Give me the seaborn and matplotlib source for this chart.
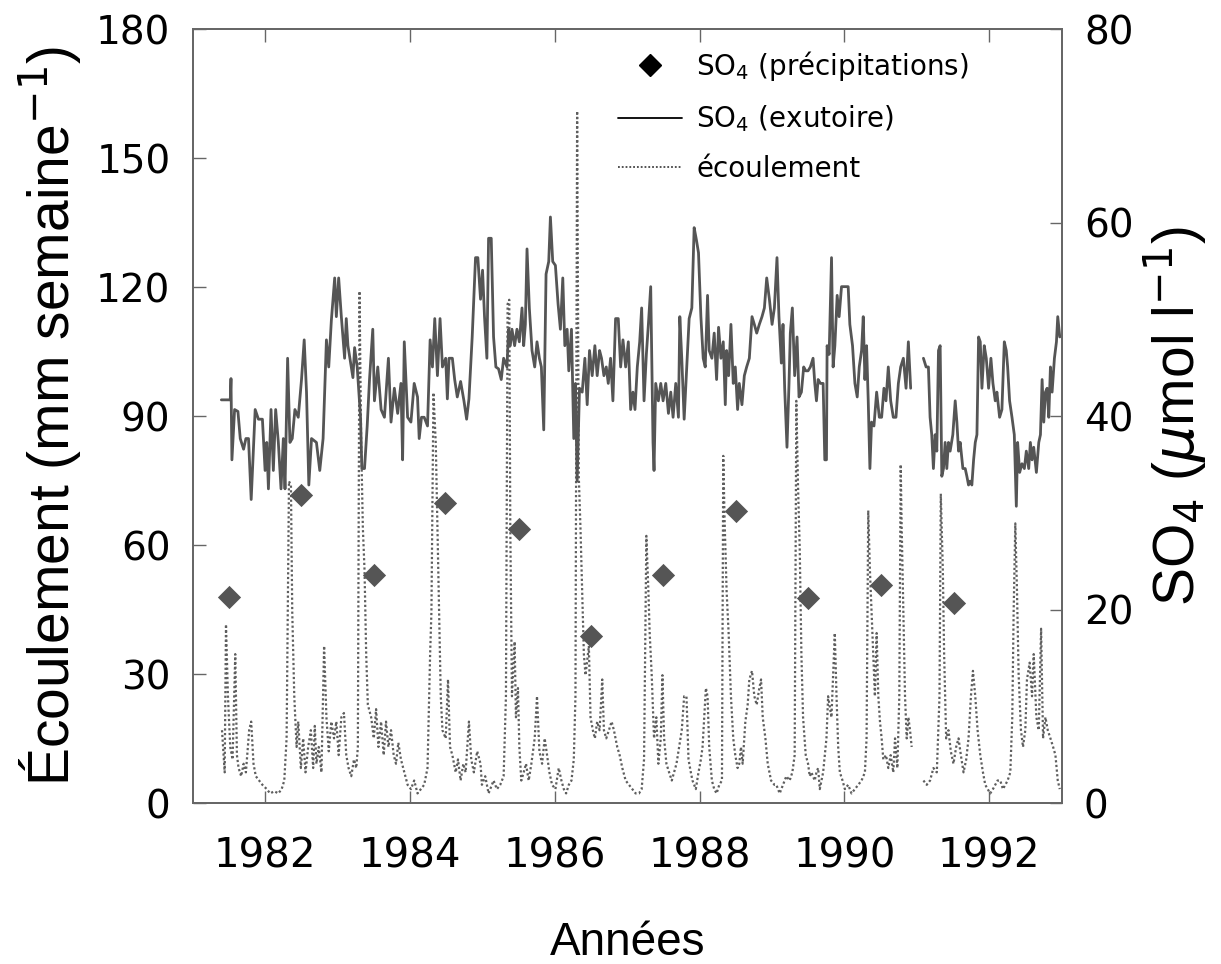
import matplotlib
matplotlib.use("Agg")
import matplotlib.pyplot as plt
from matplotlib.lines import Line2D
import pandas as pd
import seaborn as sns

# ---------------- data ----------------
# SO4 at the outlet (µmol/l), weekly-ish samples: (year, value)
so4_exutoire = [
    (1981.396, 41.7), (1981.519, 41.7), (1981.529, 43.9), (1981.542, 35.5), (1981.579, 40.7), (1981.625, 40.5),
    (1981.657, 37.7), (1981.703, 36.6), (1981.735, 37.7), (1981.771, 37.7), (1981.808, 31.4), (1981.863, 40.7),
    (1981.908, 39.7), (1981.963, 39.7), (1982.000, 34.4), (1982.023, 37.3), (1982.046, 32.5), (1982.082, 40.7),
    (1982.114, 34.4), (1982.146, 40.7), (1982.183, 37.3), (1982.220, 32.5), (1982.252, 37.7), (1982.275, 32.5),
    (1982.311, 46.0), (1982.343, 37.3), (1982.375, 37.7), (1982.412, 40.7), (1982.458, 39.9), (1982.503, 43.8),
    (1982.540, 47.9), (1982.572, 42.5), (1982.604, 32.9), (1982.641, 37.7), (1982.709, 37.3), (1982.755, 34.4),
    (1982.801, 37.7), (1982.847, 47.9), (1982.879, 45.1), (1982.915, 49.9), (1982.961, 54.3), (1982.984, 50.3),
    (1983.016, 54.3), (1983.053, 50.3), (1983.098, 46.0), (1983.121, 50.1), (1983.144, 47.3), (1983.181, 45.5),
    (1983.213, 44.0), (1983.236, 47.1), (1983.272, 45.1), (1983.318, 39.9), (1983.336, 34.6), (1983.373, 34.6),
    (1983.410, 39.0), (1983.442, 43.8), (1983.487, 49.0), (1983.510, 41.6), (1983.556, 45.1), (1983.602, 40.7),
    (1983.648, 39.9), (1983.703, 46.0), (1983.739, 39.4), (1983.785, 42.9), (1983.831, 40.3), (1983.876, 43.4),
    (1983.899, 35.5), (1983.922, 47.7), (1983.968, 39.9), (1984.014, 39.4), (1984.059, 43.4), (1984.105, 42.0),
    (1984.128, 37.7), (1984.160, 39.9), (1984.197, 39.9), (1984.243, 39.0), (1984.279, 47.9), (1984.311, 45.1),
    (1984.343, 50.1), (1984.380, 44.2), (1984.416, 50.1), (1984.449, 45.1), (1984.494, 46.0), (1984.517, 41.8),
    (1984.540, 46.0), (1984.586, 46.0), (1984.618, 43.8), (1984.654, 42.0), (1984.700, 43.6), (1984.746, 41.6),
    (1984.783, 39.7), (1984.815, 41.8), (1984.860, 48.2), (1984.906, 56.4), (1984.938, 56.4), (1984.975, 52.1),
    (1985.003, 55.1), (1985.030, 50.3), (1985.063, 46.0), (1985.086, 58.4), (1985.123, 58.4), (1985.155, 48.2),
    (1985.187, 45.1), (1985.224, 44.9), (1985.261, 43.8), (1985.294, 46.0), (1985.340, 45.1), (1985.363, 49.0),
    (1985.386, 47.3), (1985.409, 49.0), (1985.446, 47.3), (1985.478, 49.0), (1985.511, 47.7), (1985.548, 51.2),
    (1985.571, 47.3), (1985.594, 49.5), (1985.617, 57.3), (1985.649, 51.2), (1985.686, 46.8), (1985.723, 45.1),
    (1985.755, 47.7), (1985.788, 46.0), (1985.815, 45.1), (1985.848, 38.6), (1985.880, 54.7), (1985.917, 56.0),
    (1985.940, 60.6), (1985.972, 56.0), (1986.009, 55.6), (1986.046, 51.6), (1986.078, 49.0), (1986.111, 54.3),
    (1986.139, 47.3), (1986.171, 49.0), (1986.194, 44.7), (1986.231, 49.0), (1986.263, 37.7), (1986.286, 43.4),
    (1986.309, 33.3), (1986.342, 42.9), (1986.379, 42.5), (1986.416, 46.0), (1986.448, 41.2), (1986.480, 46.8),
    (1986.517, 44.2), (1986.554, 47.3), (1986.586, 44.2), (1986.619, 46.8), (1986.646, 46.0), (1986.679, 44.2),
    (1986.711, 45.1), (1986.739, 43.4), (1986.771, 46.0), (1986.803, 41.6), (1986.840, 50.1), (1986.877, 50.1),
    (1986.910, 45.1), (1986.942, 47.9), (1986.979, 45.1), (1987.016, 47.7), (1987.048, 40.7), (1987.080, 42.5),
    (1987.108, 40.7), (1987.140, 45.1), (1987.173, 47.7), (1987.200, 51.2), (1987.233, 41.6), (1987.265, 46.4),
    (1987.293, 49.5), (1987.325, 53.4), (1987.357, 37.3), (1987.371, 34.4), (1987.394, 43.4), (1987.431, 41.6),
    (1987.464, 43.4), (1987.496, 41.6), (1987.533, 43.4), (1987.570, 40.3), (1987.602, 42.5), (1987.634, 39.9),
    (1987.671, 43.4), (1987.708, 39.9), (1987.727, 50.3), (1987.754, 46.0), (1987.787, 39.7), (1987.856, 50.1),
    (1987.893, 51.2), (1987.925, 59.5), (1987.957, 58.2), (1987.985, 56.9), (1988.018, 50.3), (1988.050, 46.0),
    (1988.078, 45.1), (1988.110, 52.5), (1988.133, 46.8), (1988.170, 46.0), (1988.202, 48.6), (1988.235, 43.8),
    (1988.262, 49.2), (1988.295, 46.0), (1988.327, 47.7), (1988.355, 41.2), (1988.373, 46.8), (1988.401, 44.2),
    (1988.433, 49.5), (1988.465, 43.4), (1988.493, 45.1), (1988.525, 40.7), (1988.548, 43.4), (1988.585, 41.2),
    (1988.618, 44.2), (1988.650, 45.1), (1988.687, 46.0), (1988.724, 50.3), (1988.756, 49.5), (1988.789, 48.6),
    (1988.825, 49.5), (1988.862, 50.3), (1988.895, 51.2), (1988.927, 54.3), (1988.964, 52.1), (1989.001, 49.5),
    (1989.033, 51.2), (1989.069, 56.4), (1989.096, 50.3), (1989.129, 45.5), (1989.152, 49.5), (1989.175, 42.9),
    (1989.207, 36.8), (1989.235, 43.4), (1989.253, 48.6), (1989.281, 51.2), (1989.313, 44.2), (1989.346, 48.2),
    (1989.373, 42.0), (1989.406, 42.5), (1989.438, 45.1), (1989.466, 44.7), (1989.498, 44.7), (1989.530, 45.1),
    (1989.567, 46.0), (1989.591, 43.4), (1989.614, 41.6), (1989.637, 43.8), (1989.669, 43.4), (1989.706, 43.4),
    (1989.729, 35.5), (1989.752, 35.5), (1989.761, 47.3), (1989.789, 46.4), (1989.822, 56.4), (1989.844, 45.1),
    (1989.868, 47.3), (1989.900, 52.5), (1989.927, 50.3), (1989.960, 53.4), (1990.052, 53.4), (1990.075, 49.5),
    (1990.112, 47.3), (1990.145, 43.4), (1990.177, 42.0), (1990.205, 45.1), (1990.237, 46.8), (1990.260, 50.3),
    (1990.283, 43.8), (1990.306, 47.3), (1990.329, 41.6), (1990.352, 34.6), (1990.375, 39.4), (1990.408, 39.0),
    (1990.445, 42.5), (1990.482, 39.9), (1990.514, 39.9), (1990.546, 42.9), (1990.574, 41.6), (1990.606, 45.1),
    (1990.639, 41.6), (1990.675, 39.9), (1990.712, 39.9), (1990.745, 43.4), (1990.777, 45.1), (1990.814, 46.0),
    (1990.851, 42.9), (1990.883, 47.7), (1990.915, 42.9), (1991.091, 46.0), (1991.128, 45.1), (1991.160, 45.1),
    (1991.183, 39.9), (1991.206, 38.1), (1991.229, 34.6), (1991.253, 38.1), (1991.276, 36.4), (1991.299, 46.8),
    (1991.322, 47.3), (1991.345, 33.8), (1991.368, 34.6), (1991.391, 37.3), (1991.414, 34.6), (1991.437, 37.3),
    (1991.460, 36.4), (1991.497, 38.1), (1991.530, 41.6), (1991.553, 39.4), (1991.576, 36.4), (1991.599, 37.3),
    (1991.636, 34.6), (1991.668, 34.6), (1991.691, 33.8), (1991.714, 32.9), (1991.737, 33.3), (1991.760, 32.9),
    (1991.784, 35.5), (1991.807, 37.3), (1991.830, 38.1), (1991.853, 48.2), (1991.876, 47.7), (1991.899, 42.9),
    (1991.931, 47.3), (1991.959, 46.0), (1991.991, 42.9), (1992.023, 46.0), (1992.051, 43.4), (1992.083, 41.6),
    (1992.106, 42.5), (1992.143, 39.9), (1992.175, 40.7), (1992.208, 47.7), (1992.235, 46.8), (1992.254, 45.1),
    (1992.281, 41.6), (1992.314, 39.9), (1992.346, 38.1), (1992.374, 30.7), (1992.392, 37.3), (1992.420, 34.2),
    (1992.452, 35.1), (1992.485, 34.6), (1992.512, 36.4), (1992.545, 34.6), (1992.568, 37.3), (1992.591, 35.5),
    (1992.614, 36.8), (1992.651, 34.2), (1992.684, 37.3), (1992.707, 38.1), (1992.730, 43.8), (1992.753, 39.4),
    (1992.776, 42.5), (1992.799, 42.9), (1992.822, 39.9), (1992.845, 45.1), (1992.868, 42.5), (1992.900, 46.0),
    (1992.928, 47.7), (1992.946, 50.3), (1992.974, 48.2),
]

# Runoff (mm/week): (year, value)
ecoulement = [
    (1981.405, 17.0), (1981.442, 7.2), (1981.460, 41.6), (1981.487, 24.9), (1981.519, 13.1), (1981.551, 10.2),
    (1981.588, 34.7), (1981.611, 11.2), (1981.634, 8.2), (1981.670, 6.3), (1981.703, 9.2), (1981.735, 7.2),
    (1981.780, 17.0), (1981.808, 19.0), (1981.840, 9.2), (1981.872, 6.3), (1981.918, 5.3), (1981.963, 4.3),
    (1982.023, 3.3), (1982.069, 2.3), (1982.128, 2.8), (1982.183, 2.3), (1982.229, 3.3), (1982.265, 5.3),
    (1982.297, 15.1), (1982.330, 74.9), (1982.357, 73.9), (1982.375, 44.5), (1982.403, 24.9), (1982.435, 13.1),
    (1982.458, 19.0), (1982.494, 8.2), (1982.526, 15.1), (1982.558, 7.2), (1982.595, 13.1), (1982.632, 17.0),
    (1982.664, 8.2), (1982.686, 18.0), (1982.709, 9.2), (1982.741, 13.1), (1982.778, 7.2), (1982.815, 36.6),
    (1982.847, 20.0), (1982.879, 12.1), (1982.915, 19.0), (1982.952, 15.1), (1982.984, 19.0), (1983.016, 11.2),
    (1983.053, 20.0), (1983.089, 21.0), (1983.121, 11.2), (1983.153, 8.2), (1983.190, 6.3), (1983.227, 10.2),
    (1983.259, 8.2), (1983.281, 13.1), (1983.304, 119.1), (1983.327, 83.7), (1983.350, 64.1), (1983.373, 54.3),
    (1983.396, 34.7), (1983.419, 22.9), (1983.465, 20.0), (1983.501, 15.1), (1983.533, 21.9), (1983.565, 13.1),
    (1983.602, 19.0), (1983.638, 11.2), (1983.670, 19.0), (1983.703, 13.1), (1983.739, 17.0), (1983.776, 11.2),
    (1983.808, 9.2), (1983.840, 14.1), (1983.876, 10.2), (1983.922, 7.2), (1983.968, 4.3), (1984.014, 3.3),
    (1984.059, 5.3), (1984.105, 2.3), (1984.151, 3.3), (1984.197, 4.3), (1984.243, 8.2), (1984.279, 34.7),
    (1984.297, 44.5), (1984.325, 95.5), (1984.357, 83.7), (1984.380, 64.1), (1984.403, 44.5), (1984.426, 24.9),
    (1984.449, 17.0), (1984.494, 15.1), (1984.526, 28.8), (1984.554, 13.1), (1984.586, 11.2), (1984.632, 7.2),
    (1984.664, 10.2), (1984.700, 5.3), (1984.737, 9.2), (1984.769, 7.2), (1984.815, 19.0), (1984.847, 10.2),
    (1984.883, 7.2), (1984.929, 12.1), (1984.975, 9.2), (1984.994, 4.3), (1985.040, 6.3), (1985.086, 2.3),
    (1985.155, 5.3), (1985.201, 3.3), (1985.247, 4.3), (1985.294, 6.3), (1985.326, 24.9), (1985.349, 116.1),
    (1985.372, 117.1), (1985.386, 64.1), (1985.409, 24.9), (1985.446, 37.6), (1985.464, 20.0), (1985.492, 26.8),
    (1985.511, 13.1), (1985.538, 5.3), (1985.571, 7.2), (1985.603, 9.2), (1985.640, 5.3), (1985.677, 9.2),
    (1985.723, 15.1), (1985.755, 24.9), (1985.788, 12.1), (1985.825, 9.2), (1985.861, 15.1), (1985.894, 11.2),
    (1985.926, 7.2), (1985.963, 4.3), (1986.009, 3.3), (1986.055, 8.2), (1986.092, 5.3), (1986.125, 3.3),
    (1986.157, 2.3), (1986.194, 4.3), (1986.231, 5.3), (1986.263, 10.2), (1986.286, 24.9), (1986.309, 161.0),
    (1986.332, 75.9), (1986.355, 64.1), (1986.379, 49.4), (1986.402, 34.7), (1986.425, 29.8), (1986.471, 36.6),
    (1986.494, 20.0), (1986.526, 17.0), (1986.554, 15.1), (1986.586, 19.0), (1986.619, 17.0), (1986.656, 28.8),
    (1986.679, 17.0), (1986.711, 15.1), (1986.748, 17.0), (1986.785, 19.0), (1986.817, 17.0), (1986.863, 13.1),
    (1986.896, 11.2), (1986.933, 8.2), (1986.979, 5.3), (1987.025, 4.3), (1987.071, 3.3), (1987.117, 2.3),
    (1987.163, 2.3), (1987.200, 3.3), (1987.233, 10.2), (1987.265, 62.2), (1987.293, 49.4), (1987.311, 39.6),
    (1987.339, 29.8), (1987.371, 15.1), (1987.403, 20.0), (1987.431, 9.2), (1987.464, 15.1), (1987.487, 29.8),
    (1987.510, 15.1), (1987.542, 9.2), (1987.579, 7.2), (1987.616, 5.3), (1987.648, 7.2), (1987.681, 9.2),
    (1987.717, 13.1), (1987.754, 17.0), (1987.787, 24.9), (1987.819, 24.9), (1987.847, 10.2), (1987.879, 7.2),
    (1987.902, 5.3), (1987.948, 3.3), (1987.985, 7.2), (1988.018, 10.2), (1988.041, 13.1), (1988.087, 26.8),
    (1988.110, 24.9), (1988.133, 13.1), (1988.170, 5.3), (1988.202, 3.3), (1988.235, 2.3), (1988.272, 4.3),
    (1988.309, 5.3), (1988.327, 80.8), (1988.345, 66.1), (1988.373, 49.4), (1988.401, 39.6), (1988.433, 24.9),
    (1988.465, 15.1), (1988.493, 11.2), (1988.525, 8.2), (1988.548, 9.2), (1988.571, 13.1), (1988.595, 9.2),
    (1988.632, 19.0), (1988.664, 22.9), (1988.687, 28.8), (1988.724, 30.8), (1988.756, 24.9), (1988.789, 22.9),
    (1988.825, 26.8), (1988.849, 28.8), (1988.872, 20.0), (1988.909, 15.1), (1988.941, 9.2), (1988.987, 5.3),
    (1989.033, 4.3), (1989.060, 4.3), (1989.106, 2.3), (1989.152, 4.3), (1989.198, 6.3), (1989.244, 5.3),
    (1989.281, 7.2), (1989.313, 11.2), (1989.336, 93.6), (1989.359, 73.9), (1989.383, 59.2), (1989.406, 34.7),
    (1989.429, 20.0), (1989.466, 11.2), (1989.498, 9.2), (1989.521, 6.3), (1989.544, 7.2), (1989.590, 5.3),
    (1989.614, 7.2), (1989.637, 8.2), (1989.660, 3.3), (1989.706, 7.2), (1989.752, 15.1), (1989.775, 24.9),
    (1989.821, 20.0), (1989.867, 39.6), (1989.891, 24.9), (1989.914, 13.1), (1989.937, 7.2), (1989.974, 5.3),
    (1990.006, 3.3), (1990.052, 4.3), (1990.098, 2.3), (1990.145, 3.3), (1990.191, 4.3), (1990.237, 5.3),
    (1990.283, 7.2), (1990.306, 15.1), (1990.329, 68.1), (1990.352, 54.3), (1990.375, 44.5), (1990.398, 34.7),
    (1990.421, 24.9), (1990.445, 39.6), (1990.468, 24.9), (1990.491, 19.0), (1990.514, 15.1), (1990.537, 10.2),
    (1990.574, 11.2), (1990.606, 8.2), (1990.639, 11.2), (1990.675, 7.2), (1990.699, 15.1), (1990.731, 8.2),
    (1990.758, 24.9), (1990.777, 78.8), (1990.791, 64.1), (1990.814, 44.5), (1990.837, 24.9), (1990.860, 15.1),
    (1990.883, 20.0), (1990.906, 17.0), (1990.929, 13.1), (1991.091, 5.3), (1991.137, 4.3), (1991.183, 5.3),
    (1991.229, 8.2), (1991.276, 7.2), (1991.313, 24.9), (1991.331, 72.0), (1991.359, 54.3), (1991.377, 34.7),
    (1991.405, 15.1), (1991.437, 17.0), (1991.469, 12.1), (1991.506, 9.2), (1991.543, 13.1), (1991.576, 15.1),
    (1991.608, 11.2), (1991.645, 7.2), (1991.682, 10.2), (1991.714, 15.1), (1991.747, 24.9), (1991.775, 30.8),
    (1991.807, 24.9), (1991.839, 17.0), (1991.876, 11.2), (1991.913, 7.2), (1991.945, 4.3), (1991.978, 3.3),
    (1992.014, 2.3), (1992.051, 3.3), (1992.083, 4.3), (1992.115, 5.3), (1992.152, 5.3), (1992.189, 3.3),
    (1992.222, 4.3), (1992.254, 5.3), (1992.291, 7.2), (1992.318, 20.0), (1992.337, 44.5), (1992.360, 65.1),
    (1992.383, 49.4), (1992.406, 29.8), (1992.438, 17.0), (1992.466, 13.1), (1992.498, 17.0), (1992.521, 28.8),
    (1992.558, 32.7), (1992.591, 24.9), (1992.614, 34.7), (1992.651, 20.0), (1992.684, 17.0), (1992.716, 40.6),
    (1992.743, 15.1), (1992.776, 20.0), (1992.808, 17.0), (1992.845, 15.1), (1992.882, 13.1), (1992.914, 11.2),
    (1992.946, 5.3), (1992.974, 3.3),
]

# Annual SO4 in precipitation (µmol/l)
precip_year = [1981.50, 1982.50, 1983.50, 1984.49, 1985.50, 1986.50, 1987.50, 1988.50, 1989.50, 1990.51, 1991.51]
precip_so4 = [21.3, 31.9, 23.6, 31.0, 28.4, 17.3, 23.6, 30.2, 21.2, 22.6, 20.7]

x_ticks = [1982, 1984, 1986, 1988, 1990, 1992]
left_ticks = [0, 30, 60, 90, 120, 150, 180]
right_ticks = [0, 20, 40, 60, 80]

legend_labels = ["SO$_4$ (précipitations)", "SO$_4$ (exutoire)", "écoulement"]
xlabel = "Années"
ylabel_left = "Écoulement (mm semaine$^{-1}$)"
ylabel_right = "SO$_4$ ($\\mu$mol l$^{-1}$)"


def to_frame(pairs, gap=0.15):
    df = pd.DataFrame(pairs, columns=["annee", "valeur"])
    df["segment"] = (df["annee"].diff() > gap).cumsum()
    return df


df_so4 = to_frame(so4_exutoire)
df_run = to_frame(ecoulement)
df_pre = pd.DataFrame({"annee": precip_year, "valeur": precip_so4})

# ---------------- style ----------------
sns.set_theme(style="white")
plt.rcParams["font.family"] = ["DejaVu Sans"]
plt.rcParams["mathtext.fontset"] = "dejavusans"
plt.rcParams["text.color"] = "black"
plt.rcParams["axes.labelcolor"] = "black"

fig = plt.figure(figsize=(12.21, 9.64), dpi=100)
ax = fig.add_axes([0.1578, 0.1667, 0.7117, 0.8029])
ax2 = ax.twinx()

line_col = "#555555"
run_col = "#5e5e5e"
dia_col = "#555555"

sns.lineplot(data=df_run, x="annee", y="valeur", units="segment", estimator=None,
             ax=ax, color=run_col, lw=1.6, linestyle=(0, (1, 1.1)), legend=False)
sns.lineplot(data=df_so4, x="annee", y="valeur", units="segment", estimator=None,
             ax=ax2, color=line_col, lw=2.0, legend=False)
sns.scatterplot(data=df_pre, x="annee", y="valeur", ax=ax2, marker="D", s=140,
                color=dia_col, edgecolor=dia_col, linewidth=0, zorder=5, legend=False)

ax.set_xlim(1981, 1993)
ax.set_ylim(0, 180)
ax2.set_ylim(0, 80)
ax.set_xticks(x_ticks)
ax.set_xticklabels([str(t) for t in x_ticks])
ax.set_yticks(left_ticks)
ax2.set_yticks(right_ticks)

spine_col = "#666666"
for a in (ax, ax2):
    for s in a.spines.values():
        s.set_color(spine_col)
        s.set_linewidth(1.3)

ax.tick_params(axis="x", direction="in", length=9, width=1, color=spine_col,
               top=True, bottom=True, labelsize=29, pad=24, labelcolor="black")
ax.tick_params(axis="y", direction="in", length=9, width=1, color=spine_col,
               left=True, right=False, labelsize=28, pad=16, labelcolor="black")
ax2.tick_params(axis="y", direction="in", length=9, width=1, color=spine_col,
                right=True, left=False, labelsize=28, pad=16, labelcolor="black")

ax.set_xlabel(xlabel, fontsize=33, family="Liberation Sans", labelpad=32, color="black")
ax.set_ylabel(ylabel_left, fontsize=41, family="Liberation Sans", labelpad=8, color="black")
ax2.set_ylabel(ylabel_right, fontsize=41, family="Liberation Sans", labelpad=6, color="black")

handles = [
    Line2D([], [], marker="D", color="black", ls="none", ms=11),
    Line2D([], [], color="black", lw=1.3),
    Line2D([], [], color="#444444", lw=1.3, ls=(0, (1, 1.1))),
]
leg = ax2.legend(handles, legend_labels, loc="upper left", bbox_to_anchor=(0.49, 0.975),
                 frameon=False, fontsize=20, handlelength=2.3, handletextpad=0.5,
                 labelspacing=0.75, borderaxespad=0, borderpad=0)
for t in leg.get_texts():
    t.set_color("black")

fig.savefig("out.png", dpi=100)
